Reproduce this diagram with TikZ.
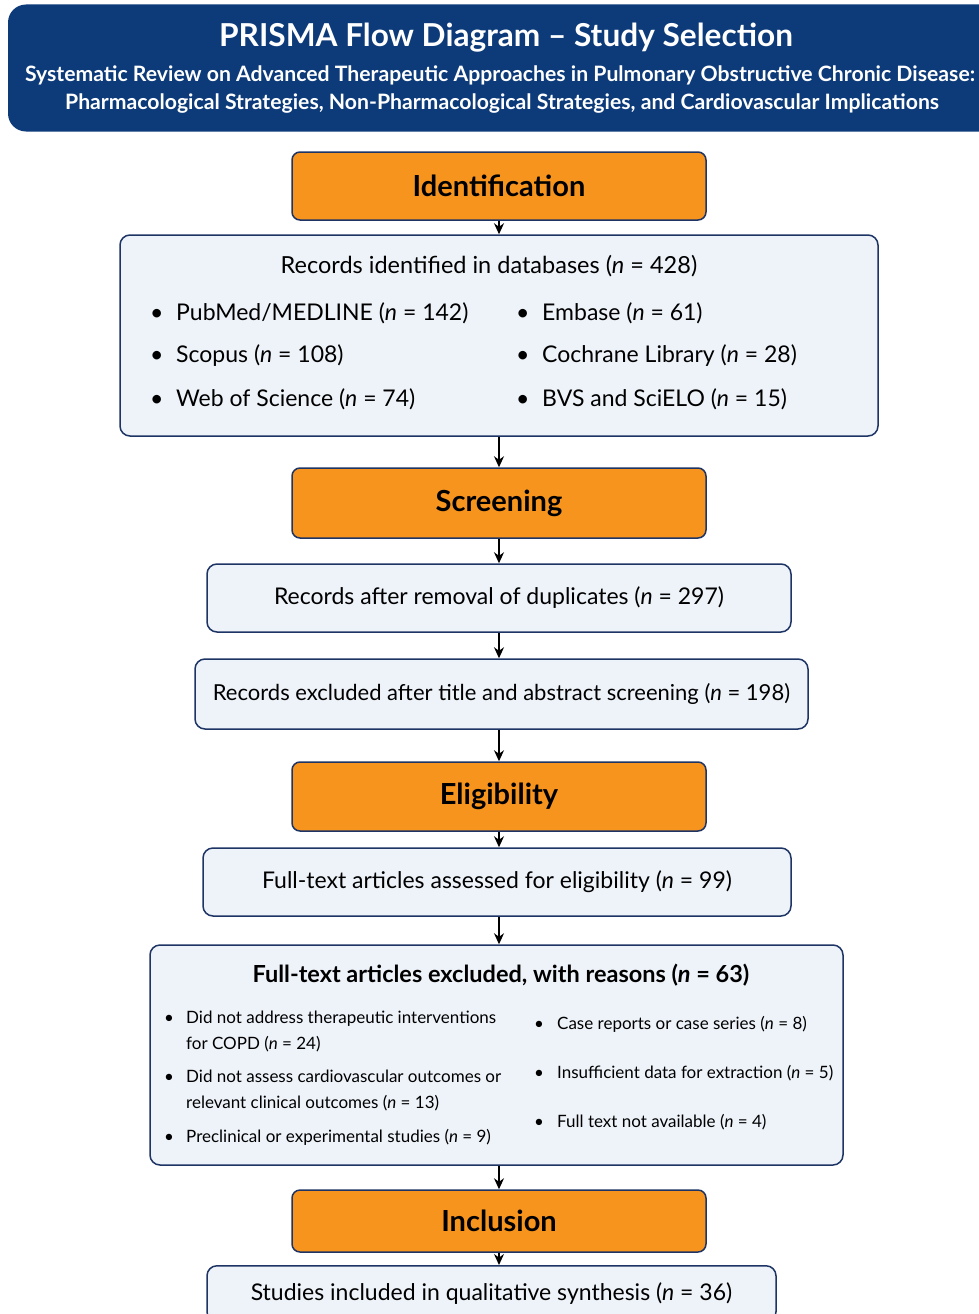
\documentclass[tikz,border=0pt]{standalone}
\usepackage{fontspec}
\setmainfont{Lato}
\usetikzlibrary{arrows.meta}
\definecolor{prismanavy}{RGB}{13,59,122}
\definecolor{prismaorange}{RGB}{247,148,30}
\definecolor{prismafill}{RGB}{238,243,250}
\definecolor{prismaline}{RGB}{30,52,100}
\tikzset{
  stage/.style={draw=prismaline, fill=prismaorange, line width=1.5pt, rounded corners=8pt,
    minimum width=414pt, minimum height=68pt, font=\fontsize{29}{33}\selectfont\bfseries},
  recbox/.style={draw=prismaline, fill=prismafill, line width=1.5pt, rounded corners=10pt,
    font=\fontsize{23}{27}\selectfont},
  itm/.style={anchor=west, inner sep=0pt, align=left, font=\fontsize{23}{27}\selectfont},
  smallitm/.style={anchor=west, inner sep=0pt, align=left, font=\fontsize{17}{26}\selectfont},
  flow/.style={-{Stealth[length=11pt,width=10pt]}, line width=1.5pt},
}
\newcommand{\bul}[2]{\makebox[#1][l]{\textbullet}#2}
\newcommand{\nn}[1]{(\textit{n} = #1)}
\newcommand{\twoline}[2]{\begin{tabular}{@{}p{22pt}@{}l@{}}\textbullet & #1\\ & #2\end{tabular}}
\begin{document}
\begin{tikzpicture}[x=1pt, y=-1pt]
\useasboundingbox (0,0) rectangle (979,1314);
% title banner
\node (title)[fill=prismanavy, rounded corners=18pt, minimum width=990pt, minimum height=127pt] at (503,68) {};
\node (t1)[text=white, font=\fontsize{31.6}{36}\selectfont\bfseries] at (506,38) {PRISMA Flow Diagram -- Study Selection};
\node (t2)[text=white, font=\fontsize{21.2}{25}\selectfont\bfseries] at (500,75) {Systematic Review on Advanced Therapeutic Approaches in Pulmonary Obstructive Chronic Disease:};
\node (t3)[text=white, font=\fontsize{21.2}{25}\selectfont\bfseries] at (502,104) {Pharmacological Strategies, Non-Pharmacological Strategies, and Cardiovascular Implications};
% identification
\node (ident)[stage] at (499,186) {Identification};
\node (records)[recbox, minimum width=758pt, minimum height=201pt] at (499,335.5) {};
\node (rechead)[font=\fontsize{23.5}{27}\selectfont] at (489,266) {Records identified in databases \nn{428}};
\node (pubmed)[itm] at (150,313) {\bul{26pt}{PubMed/MEDLINE \nn{142}}};
\node (scopus)[itm] at (150,356) {\bul{26pt}{Scopus \nn{108}}};
\node (wos)[itm] at (150,399) {\bul{26pt}{Web of Science \nn{74}}};
\node (embase)[itm] at (516,313) {\bul{26pt}{Embase \nn{61}}};
\node (cochrane)[itm] at (516,356) {\bul{26pt}{Cochrane Library \nn{28}}};
\node (bvs)[itm] at (516,399) {\bul{26pt}{BVS and SciELO \nn{15}}};
% screening
\node (screen)[stage, minimum height=70pt] at (499,503) {Screening};
\node (dedup)[recbox, minimum width=584pt, minimum height=68pt] at (499,598) {Records after removal of duplicates \nn{297}};
\node (excl)[recbox, minimum width=613pt, minimum height=70pt, font=\fontsize{22}{26}\selectfont] at (501.5,694) {Records excluded after title and abstract screening \nn{198}};
% eligibility
\node (elig)[stage, minimum height=69pt] at (499,796.5) {Eligibility};
\node (full)[recbox, minimum width=588pt, minimum height=68pt] at (497,882) {Full-text articles assessed for eligibility \nn{99}};
\node (fullex)[recbox, minimum width=693pt, minimum height=220pt] at (496.5,1055) {};
\node (fullexhead)[font=\fontsize{23.5}{27}\selectfont\bfseries] at (501,975) {Full-text articles excluded, with reasons \nn{63}};
\node (noint)[smallitm] at (164,1031) {\twoline{Did not address therapeutic interventions}{for COPD \nn{24}}};
\node (nocv)[smallitm] at (164,1090) {\twoline{Did not assess cardiovascular outcomes or}{relevant clinical outcomes \nn{13}}};
\node (precl)[smallitm] at (164,1137) {\bul{22pt}{Preclinical or experimental studies \nn{9}}};
\node (cases)[smallitm] at (534,1024) {\bul{23pt}{Case reports or case series \nn{8}}};
\node (insuff)[smallitm] at (534,1073) {\bul{23pt}{Insufficient data for extraction \nn{5}}};
\node (notavail)[smallitm] at (534,1122) {\bul{23pt}{Full text not available \nn{4}}};
% inclusion
\node (incl)[stage, minimum height=62pt] at (499,1221) {Inclusion};
\node (studies)[recbox, anchor=north, minimum width=569pt, minimum height=56pt] at (491.5,1265) {Studies included in qualitative synthesis \nn{36}};
\draw[flow] (ident.south) -- (ident.south |- records.north);
\draw[flow] (records.south) -- (records.south |- screen.north);
\draw[flow] (screen.south) -- (screen.south |- dedup.north);
\draw[flow] (dedup.south) -- (dedup.south |- excl.north);
\draw[flow] (excl.south -| dedup.south) -- (dedup.south |- elig.north);
\draw[flow] (elig.south) -- (elig.south |- full.north);
\draw[flow] (full.south -| elig.south) -- (elig.south |- fullex.north);
\draw[flow] (fullex.south -| elig.south) -- (elig.south |- incl.north);
\draw[flow] (incl.south) -- (incl.south |- studies.north);
\end{tikzpicture}
\end{document}
